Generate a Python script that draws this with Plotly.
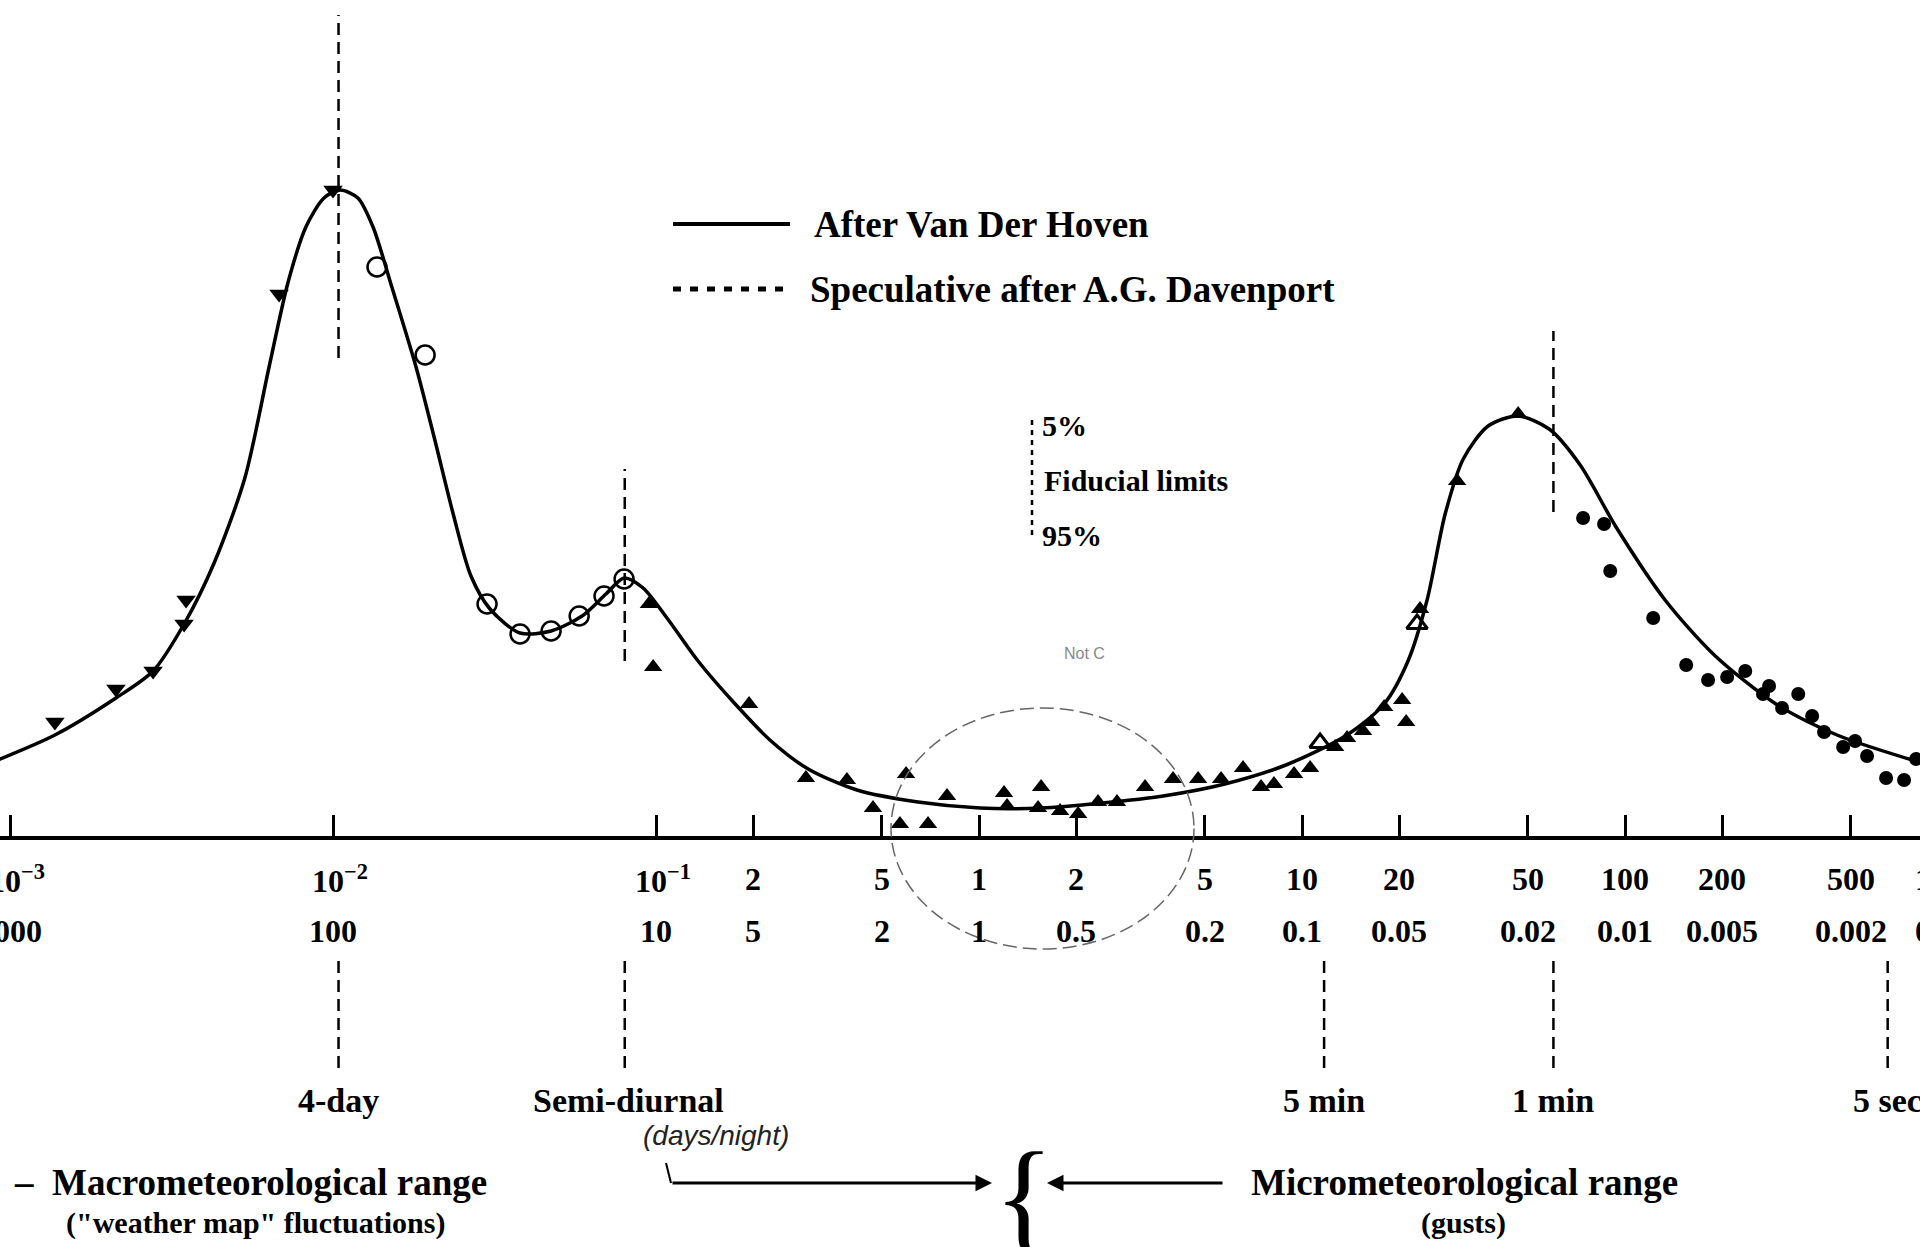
import math
import plotly.graph_objects as go

W, H = 1920, 1247

# ---------------- data (frequency in cycles/hour, spectral value in arbitrary units) -------------
curve_freq = [0.0009, 0.001377, 0.002128, 0.002773, 0.003459, 0.004285, 0.005333, 0.006339,
              0.007261, 0.008241, 0.009376, 0.01052, 0.01194, 0.0133, 0.01524, 0.01807, 0.0207,
              0.02355, 0.02673, 0.03062, 0.03793, 0.04732, 0.05902, 0.06998, 0.07962, 0.0912,
              0.1081, 0.1349, 0.1758, 0.227, 0.2958, 0.4188, 0.6471, 1.007, 1.556, 2.404, 3.715,
              5.768, 8.913, 13.77, 17.95, 21.28, 24.38, 27.73, 31.55, 37.67, 46.67, 58.21, 72.61,
              93.76, 133.0, 188.8, 293.1, 452.9, 830.0]
curve_val = [0.77, 1.03, 1.40, 1.67, 2.14, 2.75, 3.60, 4.71, 5.56, 6.11, 6.40, 6.48, 6.40, 6.11,
             5.50, 4.71, 3.97, 3.24, 2.62, 2.29, 2.05, 2.07, 2.22, 2.44, 2.60, 2.50, 2.20, 1.77,
             1.34, 0.97, 0.69, 0.48, 0.36, 0.30, 0.30, 0.35, 0.42, 0.54, 0.73, 1.03, 1.34, 1.77,
             2.38, 3.24, 3.79, 4.12, 4.22, 4.09, 3.73, 3.11, 2.38, 1.83, 1.34, 1.03, 0.75]

tri_down_freq = [0.001377, 0.002128, 0.002773, 0.003459, 0.003508, 0.006808, 0.01]
tri_down_val = [1.16, 1.49, 1.67, 2.14, 2.38, 5.44, 6.48]

open_circ_freq = [0.01368, 0.01928, 0.02998, 0.03793, 0.04732, 0.05781, 0.06902, 0.07962]
open_circ_val = [5.71, 4.83, 2.34, 2.04, 2.07, 2.22, 2.42, 2.59]

tri_up_freq = [0.09506, 0.09795, 0.1941, 0.2911, 0.3899, 0.4695, 0.5943, 0.5689, 0.695, 0.7959,
               1.195, 1.221, 1.556, 1.523, 1.782, 2.027, 2.335, 2.673, 3.265, 3.986, 4.766, 5.613,
               6.565, 7.464, 8.185, 9.445, 10.59, 12.66, 13.78, 15.44, 16.36, 17.95, 20.41, 21.0,
               23.19, 30.2, 46.67]
tri_up_val = [2.34, 1.71, 1.34, 0.60, 0.58, 0.30, 0.64, 0.14, 0.14, 0.42, 0.45, 0.32, 0.51, 0.30,
              0.27, 0.24, 0.36, 0.36, 0.51, 0.59, 0.59, 0.59, 0.70, 0.51, 0.54, 0.64, 0.70, 0.91,
              1.00, 1.07, 1.16, 1.31, 1.38, 1.16, 2.29, 3.57, 4.24]

tri_open_freq = [11.37, 22.7]
tri_open_val = [0.95, 2.14]

dot_freq = [74.13, 86.1, 89.95, 122.2, 154.6, 180.7, 207.0, 235.5, 267.3, 279.1, 306.2, 343.6,
            379.4, 413.0, 473.2, 515.2, 561.2, 642.7, 730.6, 796.2]
dot_val = [3.20, 3.14, 2.67, 2.20, 1.73, 1.58, 1.61, 1.67, 1.44, 1.52, 1.30, 1.44, 1.22, 1.06,
           0.91, 0.97, 0.82, 0.60, 0.58, 0.79]

# axis ticks
tick_freq = [0.001, 0.01, 0.1, 0.2, 0.5, 1, 2, 5, 10, 20, 50, 100, 200, 500, 1000]
freq_labels = ["10<sup>−3</sup>", "10<sup>−2</sup>", "10<sup>−1</sup>", "2", "5", "1", "2", "5",
               "10", "20", "50", "100", "200", "500", "1000"]
period_hr_labels = ["1000", "100", "10", "5", "2", "1", "0.5", "0.2", "0.1", "0.05", "0.02",
                    "0.01", "0.005", "0.002", "0.001"]

# characteristic periods
period_freq = [0.0104, 0.08, 11.7, 60, 650]
period_names = ["4-day", "Semi-diurnal", "5 min", "1 min", "5 sec"]
upper_line_idx = [0, 1, 3]
upper_line_lo = [4.80, 1.77, 3.26]
upper_line_hi = [8.23, 3.69, 5.07]

# ---------------- layout helpers ----------------
XMIN, XMAX = -3.031, 2.913
YMIN, YMAX = -4.09, 8.38
FONT = "Liberation Serif"


def pxx(x):
    return x / W


def pxy(y):
    return 1 - y / H


fig = go.Figure()

fig.add_trace(go.Scatter(x=curve_freq, y=curve_val, mode="lines",
                         line=dict(color="black", width=3.5, shape="spline", smoothing=0.8),
                         hoverinfo="skip"))

# dashed period marker lines
dash_style = dict(color="black", width=2.5, dash="12px,7px")
for i, lo, hi in zip(upper_line_idx, upper_line_lo, upper_line_hi):
    f = period_freq[i]
    fig.add_trace(go.Scatter(x=[f, f], y=[lo, hi], mode="lines", line=dash_style, hoverinfo="skip"))
for f in period_freq:
    fig.add_trace(go.Scatter(x=[f, f], y=[-1.23, -2.30], mode="lines", line=dash_style,
                             hoverinfo="skip"))

fig.add_trace(go.Scatter(x=tri_down_freq, y=tri_down_val, mode="markers",
                         marker=dict(symbol="triangle-down", size=17, color="black")))
fig.add_trace(go.Scatter(x=open_circ_freq, y=open_circ_val, mode="markers",
                         marker=dict(symbol="circle-open", size=19, color="black",
                                     line=dict(width=2.5, color="black"))))
fig.add_trace(go.Scatter(x=tri_up_freq, y=tri_up_val, mode="markers",
                         marker=dict(symbol="triangle-up", size=16, color="black")))
fig.add_trace(go.Scatter(x=tri_open_freq, y=tri_open_val, mode="markers",
                         marker=dict(symbol="triangle-up-open", size=18, color="black",
                                     line=dict(width=3, color="black"))))
fig.add_trace(go.Scatter(x=dot_freq, y=dot_val, mode="markers",
                         marker=dict(symbol="circle", size=14, color="black")))

annotations = []


def text(x, y, s, size, xanchor="center", xref="paper", color="black", weight="bold",
         family=FONT, style="normal", xshift=0):
    annotations.append(dict(x=x, y=y, xref=xref, yref="paper", text=s, showarrow=False,
                            xanchor=xanchor, yanchor="middle", xshift=xshift,
                            font=dict(family=family, size=size, color=color, weight=weight,
                                      style=style)))


# tick labels: frequency row and period row
for f, l1, l2 in zip(tick_freq, freq_labels, period_hr_labels):
    lx = math.log10(f)
    shift = 7 if "sup" in l1 else 0
    if lx <= XMAX:
        text(lx, pxy(879), l1, 32, xref="x", xshift=shift)
        text(lx, pxy(931), l2, 32, xref="x")
    else:
        text(1.0, pxy(879), l1, 32, xanchor="left", xshift=-7)
        text(1.0, pxy(931), l2, 32, xanchor="left", xshift=-7)

# period names
for f, name in zip(period_freq, period_names):
    text(math.log10(f), pxy(1100), name, 34, xref="x", xshift=4 if name == "Semi-diurnal" else 0)

text(pxx(716), pxy(1135), "(days/night)", 28, family="Liberation Sans", weight="normal",
     style="italic", color="#222")

# range labels
text(pxx(12), pxy(1182), "–  Macrometeorological range", 37, xanchor="left")
text(pxx(255), pxy(1223), "(\"weather map\" fluctuations)", 30)
text(pxx(1464), pxy(1182), "Micrometeorological range", 37)
text(pxx(1463), pxy(1223), "(gusts)", 30)
text(pxx(1024), pxy(1196), "{", 125, weight="normal")

# legend
text(pxx(812), pxy(224), "After Van Der Hoven", 37, xanchor="left")
text(pxx(808), pxy(289), "Speculative after A.G. Davenport", 37, xanchor="left")

# fiducial limits
text(pxx(1040), pxy(425), "5%", 30, xanchor="left")
text(pxx(1042), pxy(480), "Fiducial limits", 30, xanchor="left")
text(pxx(1040), pxy(535), "95%", 30, xanchor="left")

# handwritten note
text(pxx(1084), pxy(653), "Not C", 16, color="#888", weight="normal", family="Liberation Sans")

# arrows
annotations.append(dict(x=pxx(992), y=pxy(1183), xref="paper", yref="paper", ax=-321, ay=0,
                        text="", showarrow=True, arrowhead=2, arrowsize=1.1, arrowwidth=3,
                        arrowcolor="black"))
annotations.append(dict(x=pxx(1047), y=pxy(1183), xref="paper", yref="paper", ax=177, ay=0,
                        text="", showarrow=True, arrowhead=2, arrowsize=1.1, arrowwidth=3,
                        arrowcolor="black"))

shapes = [
    # legend swatches
    dict(type="line", xref="paper", yref="paper", x0=pxx(673), x1=pxx(790), y0=pxy(224),
         y1=pxy(224), line=dict(color="black", width=4)),
    dict(type="line", xref="paper", yref="paper", x0=pxx(673), x1=pxx(784), y0=pxy(289),
         y1=pxy(289), line=dict(color="black", width=5, dash="8px,9px")),
    # fiducial bar
    dict(type="line", xref="paper", yref="paper", x0=pxx(1032), x1=pxx(1032), y0=pxy(420),
         y1=pxy(539), line=dict(color="black", width=2.5, dash="5px,5px")),
    # hand-drawn circle
    dict(type="circle", xref="paper", yref="paper", x0=pxx(891), x1=pxx(1194), y0=pxy(708),
         y1=pxy(949), line=dict(color="#666", width=1.5, dash="14px,6px")),
    # hook of the left arrow
    dict(type="line", xref="paper", yref="paper", x0=pxx(666), x1=pxx(671), y0=pxy(1163),
         y1=pxy(1183), line=dict(color="black", width=2)),
]

fig.update_layout(
    width=W, height=H,
    margin=dict(l=0, r=0, t=0, b=0, autoexpand=False),
    paper_bgcolor="white", plot_bgcolor="white",
    showlegend=False,
    annotations=annotations,
    shapes=shapes,
    xaxis=dict(type="log", range=[XMIN, XMAX], showgrid=False, zeroline=False,
               anchor="free", position=(0 - YMIN) / (YMAX - YMIN),
               showline=True, linecolor="black", linewidth=4,
               tickmode="array", tickvals=tick_freq, ticks="inside", ticklen=21, tickwidth=3,
               tickcolor="black", showticklabels=False),
    yaxis=dict(range=[YMIN, YMAX], visible=False),
)

fig.write_html("out.html", config={"displayModeBar": False},
               post_script="document.body.style.margin='0';document.body.style.overflow='hidden';")
